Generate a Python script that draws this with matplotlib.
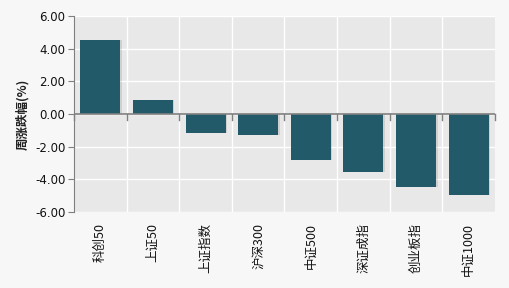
import matplotlib
matplotlib.use('Agg')
import matplotlib.pyplot as plt
import numpy as np

plt.rcParams['font.family'] = ['Noto Sans CJK SC', 'DejaVu Sans']

categories = ['科创50', '上证50', '上证指数', '沪深300', '中证500', '深证成指', '创业板指', '中证1000']
values = [4.52, 0.86, -1.16, -1.28, -2.82, -3.55, -4.45, -4.96]
yticks = [-6, -4, -2, 0, 2, 4, 6]

bar_color = '#235a69'
axis_color = '#7f7f7f'

fig = plt.figure(figsize=(5.1, 2.88), dpi=100, facecolor='#f7f7f7')
ax = fig.add_axes([0.145, 0.264, 0.8256, 0.680])
ax.set_facecolor('#e8e8e8')

x = np.arange(len(categories))
# soft shadow behind bars
ax.bar(x + 0.03, values, width=0.76, color='#000000', alpha=0.10, zorder=2)
ax.bar(x, values, width=0.76, color=bar_color, zorder=3)

ax.set_xlim(-0.5, len(categories) - 0.5)
ax.set_ylim(-6, 6)
ax.set_yticks(yticks)
ax.set_yticklabels(['%.2f' % v for v in yticks], fontsize=8.5, color='#111111',
                   family='DejaVu Sans')

# grid
for b in np.arange(0.5, len(categories) - 0.5, 1):
    ax.axvline(b, color='white', lw=1, zorder=1)
for t in yticks:
    ax.axhline(t, color='white', lw=1, zorder=1)

for s in ['top', 'right', 'bottom']:
    ax.spines[s].set_visible(False)
ax.spines['left'].set_color(axis_color)
ax.tick_params(axis='y', length=4, color=axis_color, pad=2)

# zero axis line with ticks at category boundaries
ax.axhline(0, color=axis_color, lw=1.2, zorder=4)
for b in np.arange(-0.5, len(categories), 1):
    ax.plot([b, b], [0, -0.35], color=axis_color, lw=1, zorder=4, clip_on=False)

ax.set_xticks(x)
ax.set_xticklabels(categories, rotation=90, fontsize=9, color='#111111', va='top')
ax.tick_params(axis='x', length=0, pad=8)

ax.set_ylabel('周涨跌幅(%)', fontsize=9, color='#222222', labelpad=4, fontweight='bold')

fig.savefig('out.png', dpi=100, facecolor=fig.get_facecolor())
